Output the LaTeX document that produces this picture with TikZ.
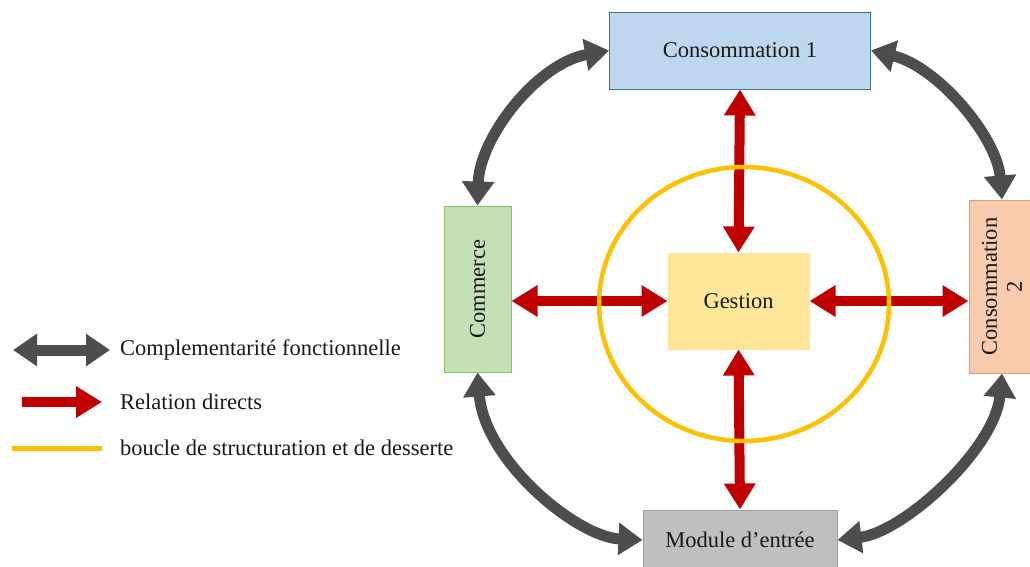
\documentclass[tikz,border=0pt]{standalone}
\usepackage{fontspec}
\setmainfont{Liberation Serif}
\usetikzlibrary{arrows.meta,calc}
\definecolor{cgray}{HTML}{4D4D4D}
\definecolor{cred}{HTML}{C00000}
\definecolor{cyel}{HTML}{FFC000}
\definecolor{bluef}{HTML}{BDD7EE}\definecolor{blued}{HTML}{41719C}
\definecolor{greenf}{HTML}{C5E0B4}\definecolor{greend}{HTML}{8CBF6E}
\definecolor{peachf}{HTML}{F8CBAD}\definecolor{peachd}{HTML}{D6A07A}
\definecolor{grayf}{HTML}{BFBFBF}\definecolor{grayd}{HTML}{A0A0A0}
\definecolor{yelf}{HTML}{FFE699}
\tikzset{
  txt/.style={font=\fontsize{22.5}{25}\selectfont, text=black!90},
  box/.style={txt, draw, line width=1pt, inner sep=0pt, align=center},
  grayarrow/.style={cgray, line width=11pt, {Triangle[length=24pt,width=31pt]}-{Triangle[length=24pt,width=31pt]}},
  redarrow/.style={cred, line width=10pt, {Triangle[length=26pt,width=30pt]}-{Triangle[length=26pt,width=30pt]}},
  loopline/.style={cyel, line width=4.5pt},
}
\begin{document}
\begin{tikzpicture}[x=1pt,y=-1pt]
\clip (0,0) rectangle (1030,566);
\fill[white] (0,0) rectangle (1030,566);
% boxes
\node[box, fill=bluef, draw=blued, minimum width=261pt, minimum height=77pt] (c1) at (740,50.5) {Consommation 1};
\node[box, fill=greenf, draw=greend, rotate=90, minimum width=166pt, minimum height=67pt] (com) at (477.5,289) {Commerce};
\node[box, fill=peachf, draw=peachd, rotate=90, minimum width=173pt, minimum height=66pt] (c2) at (1002,286.5) {Consommation\\2};
\node[box, fill=yelf, draw=yelf, minimum width=141pt, minimum height=96pt] (g) at (738.5,301) {Gestion};
\node[box, fill=grayf, draw=grayd, minimum width=194pt, minimum height=60pt] (mod) at (740,540) {Module d’entrée};
% red arrows
\draw[redarrow] (c1.south) -- (g.north);
\draw[redarrow] (g.south) -- (mod.north);
\draw[redarrow] (com.south |- g.west) -- (g.west);
\draw[redarrow] (g.east) -- (g.east -| c2.north);
% loop
\draw[loopline] (744,304) ellipse [x radius=145, y radius=137];
% gray arrows
\draw[grayarrow] (com.east) .. controls +(2,-68) and +(-72,13) .. (c1.west);
\draw[grayarrow] (c1.east) .. controls +(67,16) and +(-5,-62) .. (c2.east);
\draw[grayarrow] (com.west) .. controls +(7,88) and +(-66,-3) .. (mod.west);
\draw[grayarrow] (mod.east) .. controls +(67,-8) and +(-7,75) .. (c2.west);
% legend
\coordinate (l1a) at (13,350); \coordinate (l1b) at (110,350);
\coordinate (l2a) at (22,402); \coordinate (l2b) at (102,402);
\coordinate (l3a) at (12,448); \coordinate (l3b) at (102,448);
\draw[grayarrow] (l1a) -- (l1b);
\draw[cred, line width=10pt, -{Triangle[length=26pt,width=30pt]}] (l2a) -- (l2b);
\draw[cyel, line width=5pt] (l3a) -- (l3b);
\node[txt, anchor=west, inner sep=0pt] (t1) at (120,350) {Complementarité fonctionnelle};
\node[txt, anchor=west, inner sep=0pt] (t2) at (120,402) {Relation directs};
\node[txt, anchor=west, inner sep=0pt] (t3) at (120,448) {boucle de structuration et de desserte};
\end{tikzpicture}
\end{document}
